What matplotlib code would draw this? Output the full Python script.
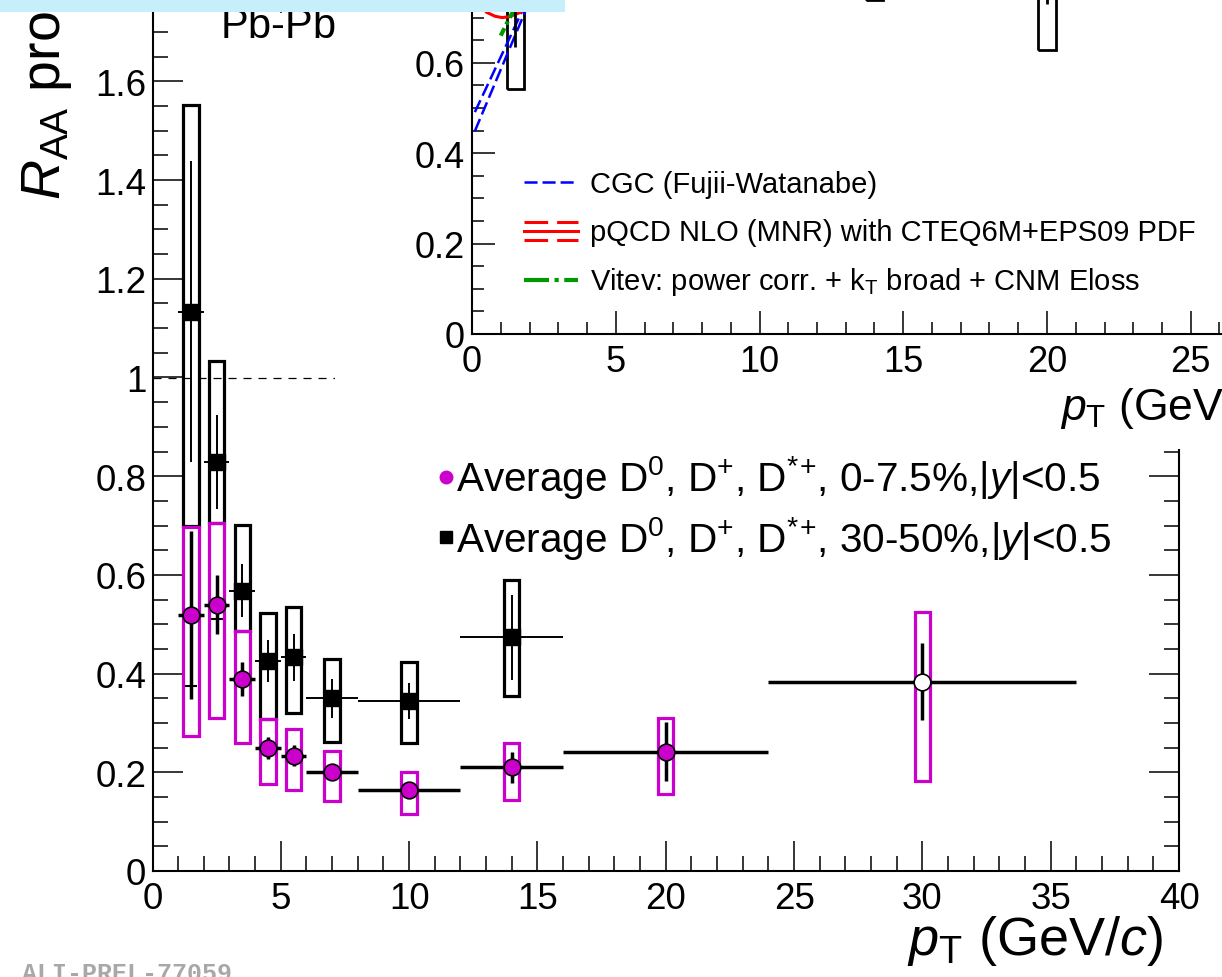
import numpy as np
import matplotlib
matplotlib.use('Agg')
import matplotlib.pyplot as plt
from matplotlib.patches import Rectangle
from matplotlib.ticker import MultipleLocator, FuncFormatter

plt.rcParams['font.family'] = ['Liberation Sans', 'DejaVu Sans']
plt.rcParams['mathtext.fontset'] = 'custom'
plt.rcParams['mathtext.rm'] = 'Liberation Sans'
plt.rcParams['mathtext.it'] = 'Liberation Sans:italic'
plt.rcParams['mathtext.bf'] = 'Liberation Sans:bold'
plt.rcParams['lines.scale_dashes'] = False

W, H = 1222, 978
MAG = '#cc00cc'

# Pb-Pb 0-7.5% (average D0, D+, D*+)
cen_pt = np.array([1.5, 2.5, 3.5, 4.5, 5.5, 7, 10, 14, 20])
cen_bin_lo = np.array([1, 2, 3, 4, 5, 6, 8, 12, 16])
cen_bin_hi = np.array([2, 3, 4, 5, 6, 8, 12, 16, 24])
cen_raa = np.array([0.519, 0.540, 0.389, 0.249, 0.234, 0.200, 0.164, 0.210, 0.242])
cen_stat = np.array([0.170, 0.060, 0.034, 0.022, 0.022, 0.014, 0.014, 0.032, 0.060])
cen_syst_lo = np.array([0.274, 0.310, 0.259, 0.176, 0.165, 0.142, 0.115, 0.144, 0.157])
cen_syst_hi = np.array([0.698, 0.705, 0.487, 0.309, 0.288, 0.244, 0.201, 0.259, 0.311])

# highest pt bin, 0-7.5%
hi_pt = np.array([30])
hi_bin_lo = np.array([24])
hi_bin_hi = np.array([36])
hi_raa = np.array([0.383])
hi_stat = np.array([0.078])
hi_syst_lo = np.array([0.183])
hi_syst_hi = np.array([0.524])

# Pb-Pb 30-50%
semi_pt = np.array([1.5, 2.5, 3.5, 4.5, 5.5, 7, 10, 14])
semi_bin_lo = np.array([1, 2, 3, 4, 5, 6, 8, 12])
semi_bin_hi = np.array([2, 3, 4, 5, 6, 8, 12, 16])
semi_raa = np.array([1.133, 0.828, 0.568, 0.425, 0.433, 0.350, 0.344, 0.474])
semi_stat = np.array([0.305, 0.095, 0.054, 0.043, 0.048, 0.040, 0.036, 0.086])
semi_syst_lo = np.array([0.700, 0.705, 0.487, 0.309, 0.320, 0.261, 0.259, 0.355])
semi_syst_hi = np.array([1.552, 1.034, 0.701, 0.522, 0.534, 0.430, 0.423, 0.589])

# small horizontal markers at low pt
cross_pt = np.array([1.5, 2.5])
cross_y = np.array([0.375, 0.510])

# p-Pb points (inset)
ppb_pt = np.array([1.5, 14, 20])
ppb_raa = np.array([0.80, 1.00, 0.88])
ppb_stat = np.array([0.165, 0.12, 0.15])
ppb_syst_lo = np.array([0.542, 0.739, 0.628])
ppb_syst_hi = np.array([1.06, 1.26, 1.13])

# model curves (inset)
cgc_pt = np.array([0.1, 1.0, 1.8, 2.5])
cgc_lo = np.array([0.449, 0.585, 0.706, 0.81])
cgc_hi = np.array([0.491, 0.613, 0.722, 0.82])
mnr_pt = np.array([0.3, 0.5, 0.8, 1.05, 1.3, 1.7, 2.0])
mnr_y = np.array([0.735, 0.712, 0.703, 0.700, 0.702, 0.712, 0.730])
vitev_pt = np.array([1.0, 1.2, 1.4, 1.7])
vitev_y = np.array([0.660, 0.686, 0.710, 0.745])


def fx(px):
    return px / W


def fy(py):
    return 1 - py / H


fmt = FuncFormatter(lambda v, p: '%g' % round(v, 3))

fig = plt.figure(figsize=(W / 100, H / 100), dpi=100)

# ---- main pad
ax = fig.add_axes([fx(152.5), fy(872), (1179 - 152.5) / W, 1.8 * 493.5 / H])
ax.set_zorder(0)
ax.set_xlim(0, 40)
ax.set_ylim(0, 1.8)
ax.xaxis.set_major_locator(MultipleLocator(5))
ax.xaxis.set_minor_locator(MultipleLocator(1))
ax.yaxis.set_major_locator(MultipleLocator(0.2))
ax.yaxis.set_minor_locator(MultipleLocator(0.05))
ax.xaxis.set_major_formatter(fmt)
ax.yaxis.set_major_formatter(fmt)
ax.tick_params(which='both', direction='in', top=True, right=True, width=1.1,
               labelsize=26.5)
ax.tick_params(which='major', length=21.6)
ax.tick_params(which='minor', length=10.8)
ax.tick_params(axis='x', pad=7.5)
ax.tick_params(axis='y', pad=4.5)
for s in ax.spines.values():
    s.set_linewidth(1.5)

ax.axhline(1, color='k', lw=0.9, ls=(0, (5.8, 5)), zorder=1)

# 30-50%
ax.bar(semi_pt, semi_syst_hi - semi_syst_lo, bottom=semi_syst_lo, width=0.6,
       fill=False, edgecolor='k', linewidth=2.3, zorder=2)
ax.errorbar(semi_pt, semi_raa, xerr=[semi_pt - semi_bin_lo, semi_bin_hi - semi_pt],
            yerr=semi_stat, fmt='none', ecolor='k', elinewidth=1.4, capsize=0, zorder=3)
ax.plot(semi_pt, semi_raa, 's', ms=11, color='k', zorder=4)

ax.errorbar(cross_pt, cross_y, xerr=0.23, fmt='none', ecolor='k', elinewidth=1.5,
            capsize=0, zorder=3)

# 0-7.5%
ax.bar(cen_pt, cen_syst_hi - cen_syst_lo, bottom=cen_syst_lo, width=0.6,
       fill=False, edgecolor=MAG, linewidth=2.3, zorder=5)
ax.bar(hi_pt, hi_syst_hi - hi_syst_lo, bottom=hi_syst_lo, width=0.6,
       fill=False, edgecolor=MAG, linewidth=2.3, zorder=5)
ax.errorbar(cen_pt, cen_raa, xerr=[cen_pt - cen_bin_lo, cen_bin_hi - cen_pt],
            yerr=cen_stat, fmt='none', ecolor='k', elinewidth=2.5, capsize=0, zorder=6)
ax.errorbar(hi_pt, hi_raa, xerr=[hi_pt - hi_bin_lo, hi_bin_hi - hi_pt],
            yerr=hi_stat, fmt='none', ecolor='k', elinewidth=2.5, capsize=0, zorder=6)
ax.plot(cen_pt, cen_raa, 'o', ms=12, mfc=MAG, mec='k', mew=1.2, zorder=7)
ax.plot(hi_pt, hi_raa, 'o', ms=12, mfc='white', mec='k', mew=1.2, zorder=7)

# legend
ax.plot([fx(446)], [fy(478)], 'o', ms=9, color=MAG, transform=fig.transFigure, clip_on=False)
ax.plot([fx(446)], [fy(538)], 's', ms=8, color='k', transform=fig.transFigure, clip_on=False)
ax.text(fx(456), fy(491), r'Average D$^{0}$, D$^{+}$, D$^{*}$$^{+}$, 0-7.5%,|$y$|<0.5',
        transform=fig.transFigure, fontsize=29.2, va='baseline', ha='left')
ax.text(fx(456), fy(552), r'Average D$^{0}$, D$^{+}$, D$^{*}$$^{+}$, 30-50%,|$y$|<0.5',
        transform=fig.transFigure, fontsize=29.2, va='baseline', ha='left')

ax.text(fx(220), fy(39), r'Pb-Pb, $\sqrt{s_{\rm NN}}$ = 2.76 TeV', transform=fig.transFigure,
        fontsize=30, va='baseline', ha='left')

# ---- inset pad
fig.add_artist(Rectangle((fx(335), fy(450)), 1.0, 1.0, transform=fig.transFigure,
                         facecolor='white', edgecolor='none', zorder=1))

axi = fig.add_axes([fx(472), fy(335), 30 * 28.75 / W, 1.6 * 452 / H])
axi.set_zorder(2)
axi.patch.set_alpha(0)
axi.set_xlim(0, 30)
axi.set_ylim(0, 1.6)
axi.xaxis.set_major_locator(MultipleLocator(5))
axi.xaxis.set_minor_locator(MultipleLocator(1))
axi.yaxis.set_major_locator(MultipleLocator(0.2))
axi.yaxis.set_minor_locator(MultipleLocator(0.05))
axi.xaxis.set_major_formatter(fmt)
axi.yaxis.set_major_formatter(fmt)
axi.tick_params(which='both', direction='in', top=True, right=True, width=1.1,
                labelsize=26)
axi.tick_params(which='major', length=16.5)
axi.tick_params(which='minor', length=8.5)
axi.tick_params(axis='x', pad=7)
axi.tick_params(axis='y', pad=5)
for s in axi.spines.values():
    s.set_linewidth(1.5)

axi.plot(cgc_pt, cgc_lo, color='#0000ff', lw=1.8, ls=(0, (9.4, 3.6)))
axi.plot(cgc_pt, cgc_hi, color='#0000ff', lw=1.8, ls=(0, (9.4, 3.6)))
axi.plot(mnr_pt, mnr_y, color='#ff0000', lw=2.2)
axi.plot(vitev_pt, vitev_y, color='#009900', lw=3, ls=(0, (6, 3, 2.5, 3)))

axi.bar(ppb_pt, ppb_syst_hi - ppb_syst_lo, bottom=ppb_syst_lo, width=0.6,
        fill=False, edgecolor='k', linewidth=2)
axi.errorbar(ppb_pt, ppb_raa, yerr=ppb_stat, fmt='none', ecolor='k', elinewidth=2, capsize=0)

# inset legend
leg_x = [fx(524), fx(578)]
axi.plot(leg_x, [fy(183)] * 2, color='#0000ff', lw=1.8, ls=(0, (9.4, 3.6)),
         transform=fig.transFigure, clip_on=False)
axi.plot(leg_x, [fy(232)] * 2, color='#ff0000', lw=2.2, transform=fig.transFigure, clip_on=False)
axi.plot(leg_x, [fy(223)] * 2, color='#ff0000', lw=2.2, ls=(0, (17, 6.5)),
         transform=fig.transFigure, clip_on=False)
axi.plot(leg_x, [fy(241)] * 2, color='#ff0000', lw=2.2, ls=(0, (17, 6.5)),
         transform=fig.transFigure, clip_on=False)
axi.plot(leg_x, [fy(281)] * 2, color='#009900', lw=3, ls=(0, (18, 4, 3, 4)),
         transform=fig.transFigure, clip_on=False)
axi.text(fx(590), fy(193), 'CGC (Fujii-Watanabe)', transform=fig.transFigure,
         fontsize=21, va='baseline')
axi.text(fx(590), fy(241), 'pQCD NLO (MNR) with CTEQ6M+EPS09 PDF', transform=fig.transFigure,
         fontsize=21, va='baseline')
axi.text(fx(590), fy(290), r'Vitev: power corr. + k$_{\rm T}$ broad + CNM Eloss',
         transform=fig.transFigure, fontsize=21, va='baseline')

axi.text(fx(1060), fy(420), r'$p_{\rm T}$ (GeV/$c$)', transform=fig.transFigure,
         fontsize=32, va='baseline', ha='left')

# ---- axis titles and labels
fig.text(fx(1163), fy(955), r'$p_{\rm T}$ (GeV/$c$)', fontsize=39, ha='right',
         va='baseline', zorder=4)
fig.text(fx(47), fy(200), r'$R_{\rm AA}$ prompt D', fontsize=40, rotation=90,
         ha='center', va='bottom', zorder=4)
fig.text(fx(22), fy(962), 'ALI-PREL-77059', family='Liberation Mono', weight='bold',
         color='#a8a8a8', fontsize=18, ha='left', va='top', zorder=4)

fig.add_artist(Rectangle((0, fy(13)), fx(565), 13 / H, transform=fig.transFigure,
                         facecolor='#c7eefb', edgecolor='none', zorder=5))

fig.savefig('out.png', dpi=100)
